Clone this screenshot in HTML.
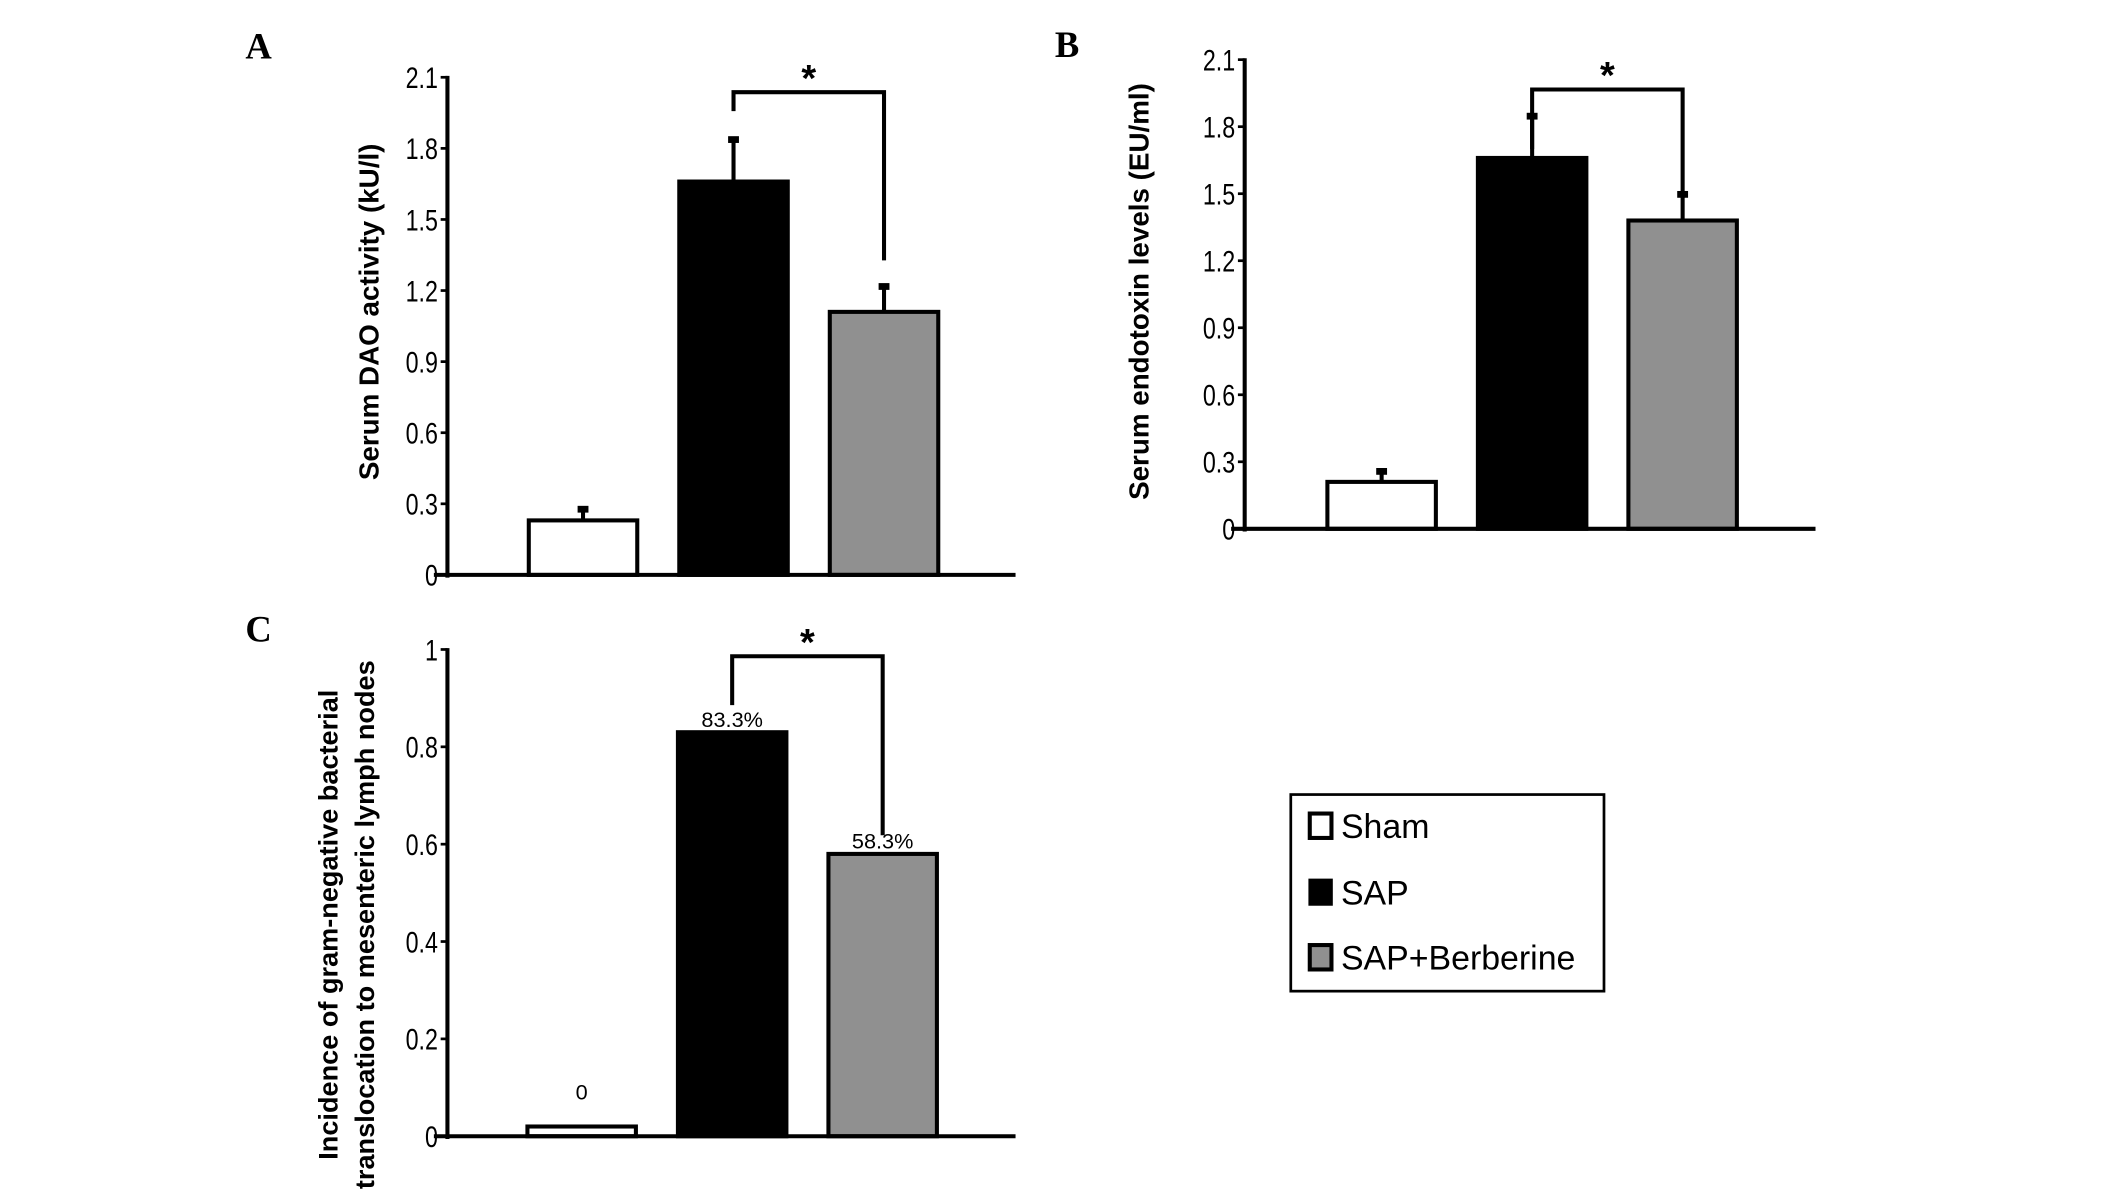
<!DOCTYPE html>
<html><head><meta charset="utf-8"><style>
html,body{margin:0;padding:0;background:#fff;}
svg{display:block;}
text{font-family:"Liberation Sans",sans-serif;}
text.serif{font-family:"Liberation Serif",serif;}
</style></head><body>
<svg id="fig" width="2126" height="1202" viewBox="0 0 1568 886.5" preserveAspectRatio="none" xmlns="http://www.w3.org/2000/svg">
<rect width="1568" height="886.5" fill="#fff"/>
<g id="legend">
<rect x="952" y="586" width="231" height="145" fill="#fff" stroke="#000" stroke-width="2"/>
<g><rect x="966" y="600" width="16" height="18" fill="#fff" stroke="#000" stroke-width="3"/><text x="989" y="618" font-size="25">Sham</text></g>
<g><rect x="965" y="648" width="18" height="20" fill="#000"/><text x="989" y="667" font-size="25">SAP</text></g>
<g><rect x="966" y="697" width="16" height="18" fill="#909090" stroke="#000" stroke-width="3"/><text x="989" y="715" font-size="25">SAP+Berberine</text></g>
</g>
</svg>
<script>
const groups = ["Sham", "SAP", "SAP+Berberine"];
const fills = ["#fff", "#000", "#909090"];
const valuesA = [0.23, 1.66, 1.11];
const errorsA = [0.05, 0.18, 0.11];
const valuesB = [0.21, 1.66, 1.38];
const errorsB = [0.05, 0.19, 0.12];
const valuesC = [0.02, 0.83, 0.58];
const labelsC = ["0", "83.3%", "58.3%"];
const ticksAB = [0, 0.3, 0.6, 0.9, 1.2, 1.5, 1.8, 2.1];
const tickLabelsAB = ["0", "0.3", "0.6", "0.9", "1.2", "1.5", "1.8", "2.1"];
const ticksC = [0, 0.2, 0.4, 0.6, 0.8, 1];
const tickLabelsC = ["0", "0.2", "0.4", "0.6", "0.8", "1"];

const NS = "http://www.w3.org/2000/svg";
const svg = document.getElementById("fig");
function el(tag, attrs, parent) {
  const e = document.createElementNS(NS, tag);
  for (const k in attrs) e.setAttribute(k, attrs[k]);
  (parent || svg).appendChild(e);
  return e;
}
function panel(cfg) {
  const g = el("g", {});
  
  
  const y = v => cfg.y0 - (v - 0) / cfg.max * (cfg.y0 - cfg.yTop);
  const bw = 80;
  const x = i => cfg.x1 + i * cfg.step;
  const L = el("text", {x: cfg.lx, y: cfg.ly, "font-size": 27, "font-weight": "bold", "class": "serif"}, g);
  L.textContent = cfg.letter;
  
  
  cfg.values.forEach((v, i) => {
    if (cfg.errors) {
      const e = el("line", {x1: x(i) + bw / 2, x2: x(i) + bw / 2, y1: y(v), y2: y(v + cfg.errors[i]), stroke: "#000", "stroke-width": 3}, g);
      
      
      const c = el("rect", {x: x(i) + bw / 2 - 4, y: y(v + cfg.errors[i]) - 2, width: 8, height: 5, fill: "#000"}, g);
      
      
    }
    const r = el("rect", {x: x(i), y: y(v), width: bw, height: cfg.y0 - y(v), fill: fills[i], stroke: "#000", "stroke-width": 3}, g);
    
    
    if (cfg.labels) {
      const off = v < 0.05 ? 20 : 4;
      const t = el("text", {x: x(i) + bw / 2, y: y(v) - off, "font-size": 16, "text-anchor": "middle"}, g);
      t.textContent = cfg.labels[i];
      
      
    }
  });
  const ya = el("line", {x1: cfg.ax, x2: cfg.ax, y1: y(cfg.max) - 1, y2: cfg.y0 + 2, stroke: "#000", "stroke-width": 3}, g);
  
  
  const xa = el("line", {x1: cfg.ax - 10, x2: cfg.xEnd, y1: cfg.y0, y2: cfg.y0, stroke: "#000", "stroke-width": 3}, g);
  
  
  cfg.ticks.forEach((tv, i) => {
    el("line", {x1: cfg.ax - 5, x2: cfg.ax, y1: y(tv), y2: y(tv), stroke: "#000", "stroke-width": 2}, g);
    const tx = cfg.ax - 7;
    const t = el("text", {x: tx, y: y(tv) + 8, "font-size": 22, "text-anchor": "end", transform: `translate(${tx},0) scale(0.78,1) translate(${-tx},0)`}, g);
    t.textContent = cfg.tickLabels[i];
    
    
  });
  cfg.titles.forEach((tt, k) => {
    const t = el("text", {x: 0, y: 0, "font-size": cfg.tfs, "font-weight": "bold", "text-anchor": "middle", transform: `translate(${cfg.tx[k]},${cfg.ty}) rotate(-90)`}, g);
    t.textContent = tt;
    
    
  });
  const lx = x(1) + bw / 2, rx = x(2) + bw / 2;
  const b = el("path", {d: `M${lx},${cfg.bl} V${cfg.by} H${rx} V${cfg.br}`, fill: "none", stroke: "#000", "stroke-width": 3}, g);
  
  
  const s = el("text", {x: (lx + rx) / 2, y: cfg.by - 1, "font-size": 28, "font-weight": "bold", "text-anchor": "middle"}, g);
  s.textContent = "*";
  
  
}
panel({name: "panel-a", letter: "A", lx: 181, ly: 43, ax: 330, x1: 390, step: 111, y0: 424, yTop: 57, max: 2.1, xEnd: 749,
  values: valuesA, errors: errorsA, ticks: ticksAB, tickLabels: tickLabelsAB, tfs: 20.5,
  titles: ["Serum DAO activity (kU/l)"], tx: [279], ty: 230, by: 68, bl: 82, br: 192});
panel({name: "panel-b", letter: "B", lx: 778, ly: 42, ax: 918, x1: 979, step: 111, y0: 390, yTop: 44, max: 2.1, xEnd: 1339,
  values: valuesB, errors: errorsB, ticks: ticksAB, tickLabels: tickLabelsAB, tfs: 20.5,
  titles: ["Serum endotoxin levels (EU/ml)"], tx: [847], ty: 215, by: 66, bl: 110, br: 146});
panel({name: "panel-c", letter: "C", lx: 181, ly: 473, ax: 330, x1: 389, step: 111, y0: 838, yTop: 479, max: 1, xEnd: 749,
  values: valuesC, labels: labelsC, ticks: ticksC, tickLabels: tickLabelsC, tfs: 20,
  titles: ["Incidence of gram-negative bacterial", "translocation to mesenteric lymph nodes"], tx: [249, 276], ty: 682, by: 484, bl: 520, br: 616});
</script>
</body></html>
